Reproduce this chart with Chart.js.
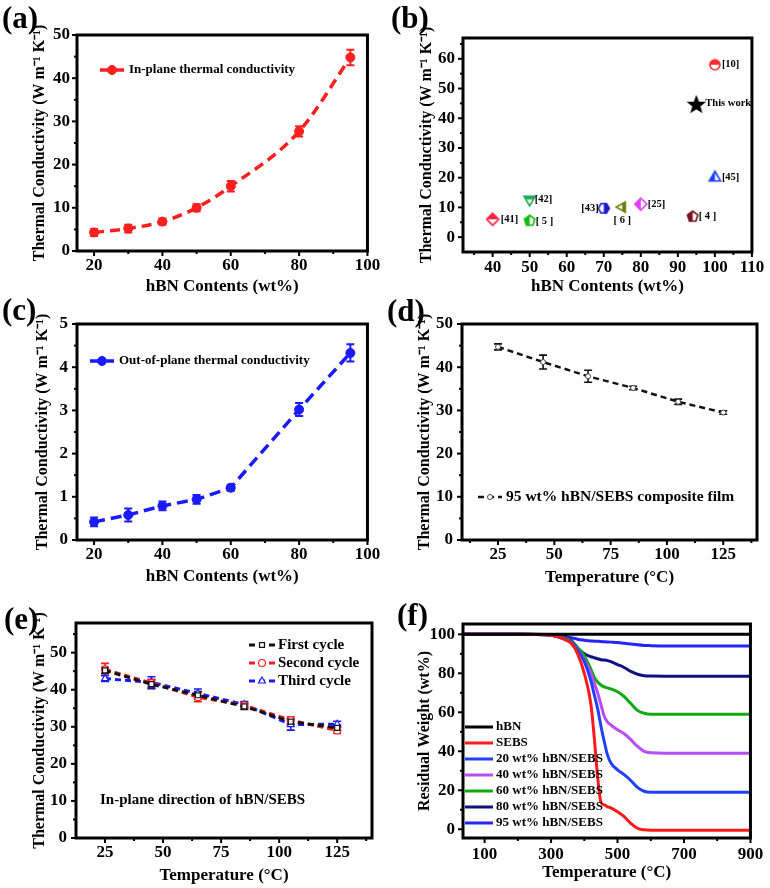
<!DOCTYPE html>
<html>
<head>
<meta charset="utf-8">
<script src="https://cdn.jsdelivr.net/npm/chart.js"></script>
<style>
  body { margin: 0; background: #fff; }
  #fig { position: relative; width: 770px; height: 888px; overflow: hidden; background: #fff; }
  #fig canvas { position: absolute; }
  .lab { position: absolute; font: bold 31px "Liberation Serif", "Times New Roman", serif; line-height: 30px; color: #000; }
</style>
</head>
<body>
<div id="fig">
  <canvas id="cA"></canvas>
  <canvas id="cB"></canvas>
  <canvas id="cC"></canvas>
  <canvas id="cD"></canvas>
  <canvas id="cE"></canvas>
  <canvas id="cF"></canvas>
  <div class="lab" style="left:2px;top:3px">(a)</div>
  <div class="lab" style="left:391px;top:3px">(b)</div>
  <div class="lab" style="left:2px;top:295px">(c)</div>
  <div class="lab" style="left:387px;top:296px">(d)</div>
  <div class="lab" style="left:4px;top:604px">(e)</div>
  <div class="lab" style="left:397px;top:600px">(f)</div>
</div>
<script>
const FONT = '"Liberation Serif", "Times New Roman", serif';
const K_TITLE = 'Thermal Conductivity (W m\u207B\u00B9 K\u207B\u00B9)';

// (a) in-plane conductivity vs hBN content
const contents = [20, 30, 40, 50, 60, 80, 95];
const aK = [4.3, 5.2, 6.8, 10.0, 15.0, 27.7, 44.8];
const aErr = [0.8, 0.9, 0.7, 0.8, 1.2, 1.2, 1.8];
const contentTicks = [20, 40, 60, 80, 100];
const k50Ticks = [0, 10, 20, 30, 40, 50];

// (b) comparison with literature
const bRefs = ['[10]', 'This work', '[45]', '[42]', '[41]', '[ 5 ]', '[43]', '[ 6 ]', '[25]', '[ 4 ]'];
const bContent = [100, 95, 100, 50, 40, 50, 70, 75, 80, 94];
const bK = [58.0, 44.8, 20.0, 12.7, 6.0, 5.5, 9.7, 10.1, 11.1, 6.9];
const bXTicks = [40, 50, 60, 70, 80, 90, 100, 110];
const bYTicks = [0, 10, 20, 30, 40, 50, 60];

// (c) out-of-plane conductivity
const cK = [0.42, 0.58, 0.79, 0.94, 1.21, 3.02, 4.33];
const cErr = [0.1, 0.15, 0.1, 0.1, 0.07, 0.15, 0.2];
const cYTicks = [0, 1, 2, 3, 4, 5];

// (d) conductivity vs temperature
const temps = [25, 45, 65, 85, 105, 125];
const dK = [44.7, 41.2, 37.9, 35.2, 32.0, 29.5];
const dErr = [0.7, 1.6, 1.4, 0.4, 0.6, 0.4];
const tempTicks = [25, 50, 75, 100, 125];

// (e) heating cycles
const eFirst = [45.2, 41.5, 38.5, 35.5, 31.4, 29.7];
const eSecond = [45.5, 41.8, 38.0, 35.8, 31.8, 29.0];
const eThird = [43.0, 42.0, 39.0, 36.0, 30.6, 30.7];
const eFirstErr = [0.8, 1.2, 1.0, 0.8, 0.8, 0.8];
const eSecondErr = [1.6, 1.0, 1.2, 0.8, 0.9, 0.8];
const eThirdErr = [0.8, 1.5, 1.2, 0.8, 1.5, 0.8];

// (f) TGA curves
const fTemp = [35, 200, 300, 340, 360, 380, 400, 420, 430, 440, 450, 460, 470, 480, 500, 520, 540, 560, 580, 600, 700, 900];
const fHBN  = [100, 100, 100, 100, 100, 100, 100, 100, 100, 100, 100, 100, 100, 100, 100, 100, 100, 100, 100, 100, 100, 100];
const fSEBS = [100, 100, 99.5, 97.5, 95.5, 90, 80, 64, 47, 27, 14, 12.5, 11.5, 11, 9, 6.5, 3, 0.5, -0.3, -0.5, -0.5, -0.5];
const f20 = [100, 100, 99.5, 97.5, 96, 92, 86, 76, 69, 62, 53, 45, 38, 34, 30.5, 28, 25, 21.5, 19.5, 19, 19, 19];
const f40 = [100, 100, 99.5, 97.5, 96, 92, 87, 80, 75, 70, 64, 58, 55, 53.5, 51, 49, 46, 42.5, 40, 39.3, 39, 39];
const f60 = [100, 100, 99.5, 98, 96.5, 93, 89, 82, 78, 75.5, 74, 73, 72.5, 72, 70.5, 68, 64.5, 61, 59.5, 59, 59, 59];
const f80 = [100, 100, 99.8, 98.5, 97, 93, 90, 88.5, 88, 87.5, 87, 86.8, 86.5, 86, 84.5, 83, 81, 79.5, 78.8, 78.6, 78.5, 78.5];
const f95 = [100, 100, 99.8, 99, 98.3, 97.5, 97, 96.6, 96.5, 96.4, 96.3, 96.2, 96.1, 96, 95.8, 95.4, 95, 94.6, 94.3, 94.2, 94, 94];
const fLabels = ['hBN', 'SEBS', '20 wt% hBN/SEBS', '40 wt% hBN/SEBS', '60 wt% hBN/SEBS', '80 wt% hBN/SEBS', '95 wt% hBN/SEBS'];
const fTicksX = [100, 300, 500, 700, 900];
const fTicksY = [0, 20, 40, 60, 80, 100];

const pts = (xs, ys) => xs.map((x, i) => ({ x: x, y: ys[i] }));

// half-filled marker images for panel (b)
function mk(shape, color, size, half) {
  const s = Math.ceil(size + 4);
  const c = document.createElement('canvas');
  c.width = s; c.height = s;
  const g = c.getContext('2d');
  const r = size / 2, cx = s / 2, cy = s / 2;
  function path() {
    g.beginPath();
    const poly = (n, rot) => {
      for (let k = 0; k < n; k++) {
        const t = rot + k * 2 * Math.PI / n;
        const px = cx + r * Math.cos(t), py = cy + r * Math.sin(t);
        if (k) g.lineTo(px, py); else g.moveTo(px, py);
      }
      g.closePath();
    };
    if (shape === 'circle') g.arc(cx, cy, r, 0, 2 * Math.PI);
    else if (shape === 'triUp') poly(3, -Math.PI / 2);
    else if (shape === 'triDown') poly(3, Math.PI / 2);
    else if (shape === 'triLeft') poly(3, Math.PI);
    else if (shape === 'diamond') poly(4, -Math.PI / 2);
    else if (shape === 'pentagon') poly(5, -Math.PI / 2);
    else if (shape === 'hexagon') poly(6, 0);
    else if (shape === 'star') {
      for (let k = 0; k < 10; k++) {
        const rr = k % 2 ? r * 0.42 : r;
        const t = -Math.PI / 2 + k * Math.PI / 5;
        const px = cx + rr * Math.cos(t), py = cy + 1 + rr * Math.sin(t);
        if (k) g.lineTo(px, py); else g.moveTo(px, py);
      }
      g.closePath();
    }
  }
  path(); g.fillStyle = '#fff'; g.fill();
  g.save(); path(); g.clip();
  g.fillStyle = color;
  if (half === 'full') g.fillRect(0, 0, s, s);
  else if (half === 'top') g.fillRect(0, 0, s, cy);
  else if (half === 'bottom') g.fillRect(0, cy, s, s);
  else if (half === 'left') g.fillRect(0, 0, cx, s);
  else if (half === 'right') g.fillRect(cx, 0, s, s);
  g.restore();
  path(); g.strokeStyle = color; g.lineWidth = 1.6; g.stroke();
  return c;
}

function minors(ticks, min, max) {
  const step = ticks[1] - ticks[0];
  const out = [];
  for (let v = ticks[0] - step / 2; v < max; v += step) if (v > min) out.push(v);
  return out;
}

const framePlugin = {
  id: 'frame',
  beforeDatasetsDraw(chart) {
    const ctx = chart.ctx, xs = chart.scales.x, ys = chart.scales.y;
    chart.data.datasets.forEach(ds => {
      if (!ds.errors) return;
      ctx.save();
      ctx.strokeStyle = ds.borderColor;
      ctx.lineWidth = ds.errorWidth || 2;
      const cap = ds.capHalf || 4;
      ds.data.forEach((p, j) => {
        const e = ds.errors[j];
        const x = xs.getPixelForValue(p.x);
        const y1 = ys.getPixelForValue(p.y - e), y2 = ys.getPixelForValue(p.y + e);
        ctx.beginPath();
        ctx.moveTo(x, y1); ctx.lineTo(x, y2);
        ctx.moveTo(x - cap, y1); ctx.lineTo(x + cap, y1);
        ctx.moveTo(x - cap, y2); ctx.lineTo(x + cap, y2);
        ctx.stroke();
      });
      ctx.restore();
    });
  },
  afterDraw(chart) {
    const o = chart.options.plugins.frame || {};
    const ctx = chart.ctx, a = chart.chartArea;
    const xs = chart.scales.x, ys = chart.scales.y;
    ctx.save();
    ctx.strokeStyle = '#000';
    ctx.lineWidth = 2;
    const xMaj = xs.ticks.map(t => t.value), yMaj = ys.ticks.map(t => t.value);
    const tickX = (vals, len) => vals.forEach(v => {
      if (v < xs.min || v > xs.max) return;
      const p = xs.getPixelForValue(v);
      ctx.beginPath(); ctx.moveTo(p, a.bottom); ctx.lineTo(p, a.bottom + len); ctx.stroke();
    });
    const tickY = (vals, len) => vals.forEach(v => {
      if (v < ys.min || v > ys.max) return;
      const p = ys.getPixelForValue(v);
      ctx.beginPath(); ctx.moveTo(a.left, p); ctx.lineTo(a.left - len, p); ctx.stroke();
    });
    tickX(xMaj, 5); tickY(yMaj, 5);
    tickX(minors(xMaj, xs.min, xs.max), 3); tickY(minors(yMaj, ys.min, ys.max), 3);
    ctx.lineWidth = 3;
    ctx.strokeRect(a.left, a.top, a.right - a.left, a.bottom - a.top);

    // legend drawn inside the plot box
    const lg = o.legend;
    if (lg) {
      chart.data.datasets.forEach((ds, i) => {
        const y = a.top + lg.dy + i * (lg.row || 0);
        const x0 = a.left + lg.dx;
        ctx.save();
        ctx.strokeStyle = ds.borderColor;
        ctx.lineWidth = ds.borderWidth;
        ctx.setLineDash(ds.borderDash || []);
        ctx.beginPath(); ctx.moveTo(x0, y); ctx.lineTo(x0 + lg.len, y); ctx.stroke();
        ctx.setLineDash([]);
        if (ds.pointRadius > 0 && Chart.helpers && Chart.helpers.drawPoint) {
          ctx.fillStyle = ds.pointBackgroundColor;
          ctx.strokeStyle = ds.pointBorderColor;
          ctx.lineWidth = ds.pointBorderWidth || 1;
          Chart.helpers.drawPoint(ctx, { pointStyle: ds.pointStyle || 'circle', radius: ds.pointRadius, borderWidth: ds.pointBorderWidth || 1, rotation: 0 }, x0 + lg.len / 2, y);
        }
        ctx.fillStyle = '#000';
        ctx.font = 'bold ' + lg.size + 'px ' + FONT;
        ctx.textBaseline = 'middle';
        ctx.textAlign = 'left';
        ctx.fillText(ds.label, x0 + lg.len + lg.gap, y);
        ctx.restore();
      });
    }
    if (o.note) {
      ctx.fillStyle = '#000';
      ctx.font = 'bold ' + o.note.size + 'px ' + FONT;
      ctx.textBaseline = 'middle';
      ctx.textAlign = 'left';
      ctx.fillText(o.note.text, a.left + o.note.dx, a.top + o.note.dy);
    }
    if (o.pointLabels) {
      const meta = chart.getDatasetMeta(0);
      ctx.fillStyle = '#000';
      ctx.font = 'bold ' + o.pointLabels.size + 'px ' + FONT;
      ctx.textBaseline = 'middle';
      o.pointLabels.texts.forEach((t, j) => {
        const el = meta.data[j];
        const off = o.pointLabels.offsets[j];
        ctx.textAlign = off[2];
        ctx.fillText(t, el.x + off[0], el.y + off[1]);
      });
    }
    ctx.restore();
  }
};

function build(id, rect, area, lay, spec) {
  const cv = document.getElementById(id);
  cv.width = rect.w; cv.height = rect.h;
  cv.style.left = rect.x + 'px'; cv.style.top = rect.y + 'px';
  const tickFont = { family: FONT, size: 17, weight: 'bold' };
  const xTitleFont = { family: FONT, size: 17, weight: 'bold' };
  const yTitleFont = { family: FONT, size: 16, weight: 'bold' };
  return new Chart(cv, {
    type: spec.type || 'line',
    data: { datasets: spec.datasets },
    options: {
      responsive: false,
      animation: false,
      layout: { padding: { left: 0, bottom: 0, top: area.t - rect.y, right: rect.x + rect.w - area.r } },
      plugins: { legend: { display: false }, tooltip: { enabled: false }, frame: spec.frame || {} },
      scales: {
        x: {
          type: 'linear', min: spec.x.min, max: spec.x.max,
          afterBuildTicks: s => { s.ticks = spec.x.ticks.map(v => ({ value: v })); },
          afterFit: s => { s.height = rect.y + rect.h - area.b; },
          grid: { display: false, drawTicks: false },
          border: { display: false },
          ticks: { color: '#000', font: tickFont, padding: lay.xLab - area.b - 10.2, maxRotation: 0, autoSkip: false },
          title: { display: true, text: spec.x.title, color: '#000', font: xTitleFont,
                   padding: { top: 0, bottom: rect.y + rect.h - lay.xTitle - 10.2 } }
        },
        y: {
          type: 'linear', min: spec.y.min, max: spec.y.max,
          afterBuildTicks: s => { s.ticks = spec.y.ticks.map(v => ({ value: v })); },
          afterFit: s => { s.width = area.l - rect.x; },
          grid: { display: false, drawTicks: false },
          border: { display: false },
          ticks: { color: '#000', font: tickFont, padding: area.l - lay.yLab, autoSkip: false },
          title: { display: true, text: spec.y.title, color: '#000', font: yTitleFont,
                   padding: { top: lay.yTitle - rect.x - 9.6, bottom: 0 } }
        }
      }
    },
    plugins: [framePlugin]
  });
}

const RED = '#ff1f1f', BLUE = '#1a1aff';

// (a)
build('cA', { x: 0, y: 0, w: 385, h: 300 }, { l: 77, t: 35, r: 372, b: 251 },
  { xLab: 266, xTitle: 287, yLab: 70, yTitle: 40 }, {
  datasets: [{
    label: 'In-plane thermal conductivity', data: pts(contents, aK), errors: aErr,
    borderColor: RED, borderWidth: 3.5, borderDash: [10, 6], cubicInterpolationMode: 'monotone',
    pointRadius: 4.5, pointBackgroundColor: RED, pointBorderColor: RED, pointBorderWidth: 1,
    errorWidth: 2, capHalf: 4
  }],
  x: { min: 15, max: 100, ticks: contentTicks, title: 'hBN Contents (wt%)' },
  y: { min: 0, max: 50, ticks: k50Ticks, title: K_TITLE },
  frame: { legend: { dx: 23, dy: 35, len: 24, gap: 5, size: 13 } }
});

// (b)
const bMarkers = [
  mk('circle', '#ff2a2a', 10, 'top'),
  mk('star', '#000', 16, 'full'),
  mk('triUp', '#1f3fff', 13, 'left'),
  mk('triDown', '#22aa55', 13, 'top'),
  mk('diamond', '#ff2040', 12, 'top'),
  mk('pentagon', '#11bb11', 11, 'left'),
  mk('hexagon', '#1a1acc', 11, 'right'),
  mk('triLeft', '#6b7d10', 12, 'right'),
  mk('diamond', '#e040f0', 12, 'left'),
  mk('pentagon', '#7a1020', 11, 'left')
];
build('cB', { x: 385, y: 0, w: 385, h: 300 }, { l: 463, t: 38, r: 757, b: 252 },
  { xLab: 268, xTitle: 287, yLab: 455, yTitle: 427 }, {
  type: 'scatter',
  datasets: [{ label: 'refs', data: pts(bContent, bK), pointStyle: bMarkers, pointRadius: 6 }],
  x: { min: 32, max: 110, ticks: bXTicks, title: 'hBN Contents (wt%)' },
  y: { min: -5, max: 67, ticks: bYTicks, title: K_TITLE },
  frame: { pointLabels: { texts: bRefs, size: 10.5,
    offsets: [[7, 0, 'left'], [9, -1, 'left'], [7, 0, 'left'], [5, 0, 'left'], [8, 0, 'left'],
              [6, 0, 'left'], [-5, 0, 'right'], [0, 13, 'center'], [7, 0, 'left'], [6, 0, 'left']] } }
});

// (c)
build('cC', { x: 0, y: 295, w: 385, h: 300 }, { l: 77, t: 324, r: 372, b: 540 },
  { xLab: 555, xTitle: 577, yLab: 68, yTitle: 43 }, {
  datasets: [{
    label: 'Out-of-plane thermal conductivity', data: pts(contents, cK), errors: cErr,
    borderColor: BLUE, borderWidth: 3.5, borderDash: [11, 6],
    pointRadius: 4.5, pointBackgroundColor: BLUE, pointBorderColor: BLUE, pointBorderWidth: 1,
    errorWidth: 2, capHalf: 4
  }],
  x: { min: 15, max: 100, ticks: contentTicks, title: 'hBN Contents (wt%)' },
  y: { min: 0, max: 5, ticks: cYTicks, title: K_TITLE },
  frame: { legend: { dx: 13, dy: 37, len: 24, gap: 5, size: 13 } }
});

// (d)
build('cD', { x: 385, y: 295, w: 385, h: 300 }, { l: 462, t: 324, r: 757, b: 540 },
  { xLab: 555, xTitle: 578, yLab: 453, yTitle: 425 }, {
  datasets: [{
    label: '95 wt% hBN/SEBS composite film', data: pts(temps, dK), errors: dErr,
    borderColor: '#111', borderWidth: 2.5, borderDash: [6, 4],
    pointRadius: 2.5, pointBackgroundColor: '#fff', pointBorderColor: '#444', pointBorderWidth: 1,
    errorWidth: 1.6, capHalf: 4
  }],
  x: { min: 9, max: 140, ticks: tempTicks, title: 'Temperature (\u00B0C)' },
  y: { min: 0, max: 50, ticks: k50Ticks, title: K_TITLE },
  frame: { legend: { dx: 16, dy: 173, len: 24, gap: 4, size: 15.5 } }
});

// (e)
build('cE', { x: 0, y: 592, w: 385, h: 296 }, { l: 76, t: 623, r: 372, b: 838 },
  { xLab: 853, xTitle: 876, yLab: 67, yTitle: 40 }, {
  datasets: [
    { label: 'First cycle', data: pts(temps, eFirst), errors: eFirstErr,
      borderColor: '#111', borderWidth: 3, borderDash: [6, 4],
      pointStyle: 'rect', pointRadius: 3.5, pointBackgroundColor: '#fff', pointBorderColor: '#111', pointBorderWidth: 1.2,
      errorWidth: 1.6, capHalf: 4 },
    { label: 'Second cycle', data: pts(temps, eSecond), errors: eSecondErr,
      borderColor: RED, borderWidth: 3, borderDash: [6, 4],
      pointStyle: 'circle', pointRadius: 3.5, pointBackgroundColor: '#fff', pointBorderColor: RED, pointBorderWidth: 1.2,
      errorWidth: 1.6, capHalf: 4 },
    { label: 'Third cycle', data: pts(temps, eThird), errors: eThirdErr,
      borderColor: BLUE, borderWidth: 3, borderDash: [6, 4],
      pointStyle: 'triangle', pointRadius: 4, pointBackgroundColor: '#fff', pointBorderColor: BLUE, pointBorderWidth: 1.2,
      errorWidth: 1.6, capHalf: 4 }
  ],
  x: { min: 12.5, max: 140, ticks: tempTicks, title: 'Temperature (\u00B0C)' },
  y: { min: 0, max: 58, ticks: k50Ticks, title: K_TITLE },
  frame: { legend: { dx: 173, dy: 22, row: 18, len: 26, gap: 3, size: 15 },
           note: { text: 'In-plane direction of hBN/SEBS', dx: 24, dy: 177, size: 15 } }
});

// (f)
const fColors = ['#000000', '#ff1a1a', '#2040ff', '#b84cf5', '#10aa10', '#101080', '#2424ff'];
const fSeries = [fHBN, fSEBS, f20, f40, f60, f80, f95];
build('cF', { x: 385, y: 592, w: 385, h: 296 }, { l: 463, t: 624, r: 756, b: 838 },
  { xLab: 855, xTitle: 873, yLab: 455, yTitle: 425 }, {
  datasets: fSeries.map((s, i) => ({
    label: fLabels[i], data: pts(fTemp, s), borderColor: fColors[i], borderWidth: 3,
    pointRadius: 0, cubicInterpolationMode: 'monotone'
  })),
  x: { min: 35, max: 900, ticks: fTicksX, title: 'Temperature (\u00B0C)' },
  y: { min: -4.5, max: 105.3, ticks: fTicksY, title: 'Residual Weight (wt%)' },
  frame: { legend: { dx: 2, dy: 103, row: 16, len: 28, gap: 3, size: 13 } }
});
</script>
</body>
</html>
